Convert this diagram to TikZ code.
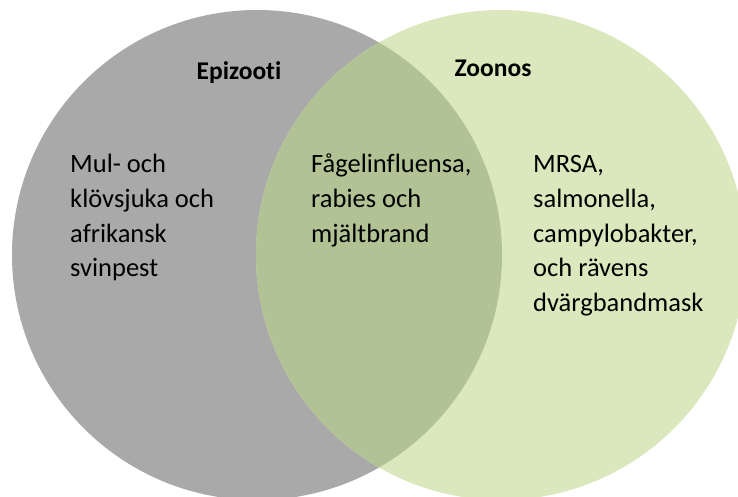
\documentclass[tikz,border=0pt]{standalone}
\usepackage{fontspec}
\setmainfont[Ligatures={NoCommon}]{Carlito}
\definecolor{epigray}{HTML}{A9A9A9}
\definecolor{zoogreen}{HTML}{DBE8BE}
\definecolor{overlapgreen}{HTML}{B1C295}
\tikzset{
  bodytext/.style={anchor=base west, inner sep=0pt, font=\fontsize{26.5}{30}\selectfont},
  titletext/.style={anchor=base, inner sep=0pt, font=\fontsize{25.5}{30}\selectfont\bfseries},
}
\begin{document}
\begin{tikzpicture}[x=1pt,y=-1pt]
\useasboundingbox (0,0) rectangle (738,497);
\coordinate (cl) at (257,255);
\coordinate (cr) at (501,255);
\fill[epigray] (cl) circle (245pt);
\fill[zoogreen] (cr) circle (245pt);
\begin{scope}
  \clip (cl) circle (245pt);
  \fill[overlapgreen] (cr) circle (245pt);
\end{scope}
\node[titletext] (epi) at (239,79.3) {Epizooti};
\node[titletext] (zoo) at (493,76.7) {Zoonos};
% left set
\node[bodytext] (l1) at (70,172.7) {Mul- och};
\node[bodytext] (l2) at (70,207.5) {klövsjuka och};
\node[bodytext] (l3) at (70,242.2) {afrikansk};
\node[bodytext] (l4) at (70,276.9) {svinpest};
% intersection
\node[bodytext] (m1) at (311,172.7) {Fågelinfluensa,};
\node[bodytext] (m2) at (311,207.5) {rabies och};
\node[bodytext] (m3) at (311,242.2) {mjältbrand};
% right set
\node[bodytext] (r1) at (533,172.7) {MRSA,};
\node[bodytext] (r2) at (533,207.5) {salmonella,};
\node[bodytext] (r3) at (533,242.2) {campylobakter,};
\node[bodytext] (r4) at (533,276.9) {och rävens};
\node[bodytext] (r5) at (533,311.6) {dvärgbandmask};
\end{tikzpicture}
\end{document}
